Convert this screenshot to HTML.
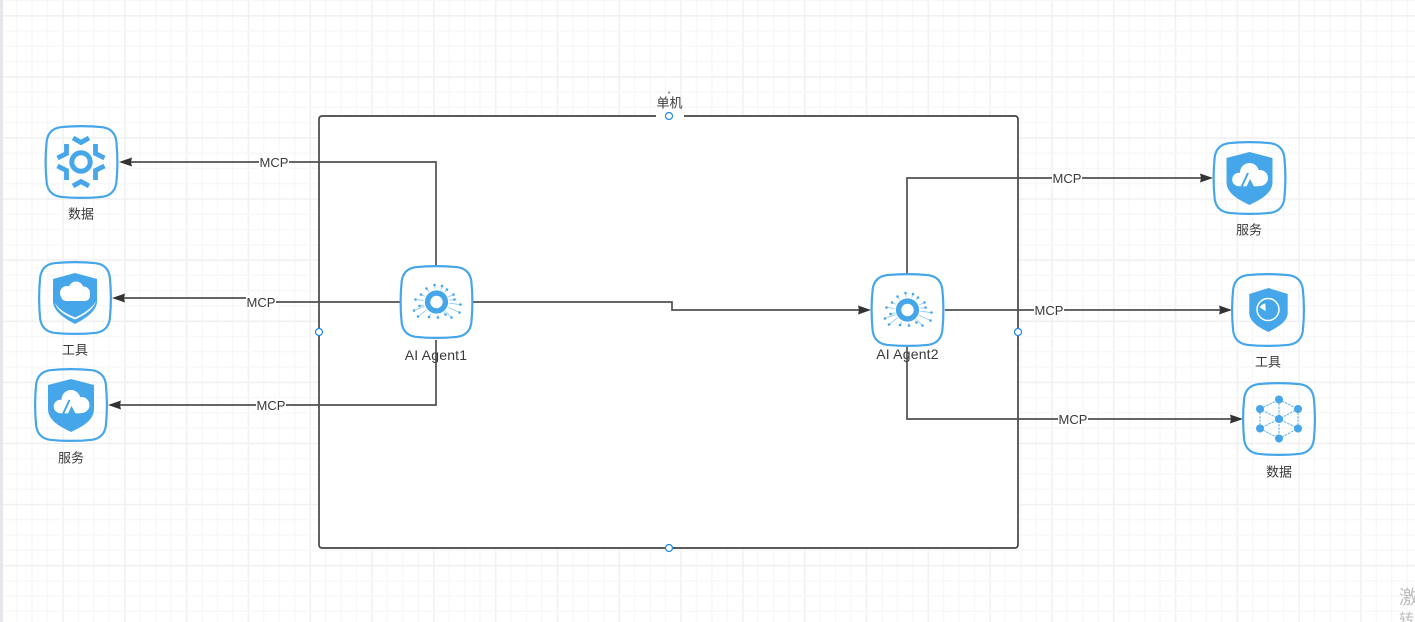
<!DOCTYPE html>
<html><head><meta charset="utf-8">
<style>
html,body{margin:0;padding:0;background:#fff;overflow:hidden}
svg{display:block}
text{font-family:"Liberation Sans","Noto Sans CJK SC",sans-serif;font-size:13px;fill:#3a3a3a;text-anchor:middle;dominant-baseline:central}
</style></head><body>
<svg width="1415" height="622" viewBox="0 0 1415 622" xmlns="http://www.w3.org/2000/svg">
<defs>
<pattern id="gv" patternUnits="userSpaceOnUse" x="0.5" y="0" width="61.8" height="622">
<rect x="0" width="1.6" height="622" fill="#f1f1f1"/>
<rect x="15.45" width="1.3" height="622" fill="#f7f7f7"/>
<rect x="30.9" width="1.3" height="622" fill="#f7f7f7"/>
<rect x="46.35" width="1.3" height="622" fill="#f7f7f7"/>
</pattern>
<pattern id="gh" patternUnits="userSpaceOnUse" x="0" y="15" width="1415" height="61.1">
<rect y="0" width="1415" height="1.6" fill="#f1f1f1"/>
<rect y="15.27" width="1415" height="1.3" fill="#f7f7f7"/>
<rect y="30.55" width="1415" height="1.3" fill="#f7f7f7"/>
<rect y="45.82" width="1415" height="1.3" fill="#f7f7f7"/>
</pattern>
<path id="frame" fill="none" stroke="#46a6ea" stroke-width="2.2" d="M-21-34.800Q0-37 21-34.800Q33-33 34.800-21Q37 0 34.800 21Q33 33 21 34.800Q0 37-21 34.800Q-33 33-34.800 21Q-37 0-34.800-21Q-33-33-21-34.800Z"/>
<g id="agent">
<use href="#frame"/>
<circle r="8.9" fill="none" stroke="#46a6ea" stroke-width="5.400"/>
<g stroke="#6db8ee" stroke-width=".65">
<line x1="-2" y1="-17" x2="-1.5" y2="-12.9"/><line x1="5.5" y1="-16" x2="4.2" y2="-12.3"/><line x1="10.5" y1="-12.5" x2="8.4" y2="-10"/><line x1="17" y1="-7.5" x2="11.9" y2="-5.2"/><line x1="18" y1="-2.5" x2="12.9" y2="-1.8"/><line x1="24" y1="2.5" x2="13" y2="1.3"/><line x1="23" y1="10.5" x2="11.8" y2="5.4"/><line x1="15" y1="15.5" x2="9" y2="9.3"/><line x1="9" y1="12.5" x2="7.6" y2="10.5"/><line x1="1.5" y1="15.5" x2="1.2" y2="12.9"/><line x1="-7.5" y1="15" x2="-5.8" y2="11.6"/><line x1="-18.5" y1="14.5" x2="-10.2" y2="8"/><line x1="-22.5" y1="8.5" x2="-12.2" y2="4.6"/><line x1="-17" y1="4" x2="-12.6" y2="3"/><line x1="-21" y1="-2.5" x2="-13" y2="-1.6"/><line x1="-15.5" y1="-7.5" x2="-11.8" y2="-5.7"/><line x1="-10" y1="-13.5" x2="-7.7" y2="-10.4"/>
</g>
<g fill="#46a6ea">
<circle cx="-2" cy="-17" r="1.3"/><circle cx="5.5" cy="-16" r="1.3"/><circle cx="10.5" cy="-12.5" r="1.3"/><circle cx="17" cy="-7.5" r="1.3"/><circle cx="18" cy="-2.5" r="1.3"/><circle cx="24" cy="2.5" r="1.3"/><circle cx="23" cy="10.5" r="1.3"/><circle cx="15" cy="15.5" r="1.3"/><circle cx="9" cy="12.5" r="1.3"/><circle cx="1.5" cy="15.5" r="1.3"/><circle cx="-7.5" cy="15" r="1.3"/><circle cx="-18.5" cy="14.5" r="1.3"/><circle cx="-22.5" cy="8.5" r="1.3"/><circle cx="-17" cy="4" r="1.3"/><circle cx="-21" cy="-2.5" r="1.3"/><circle cx="-15.5" cy="-7.5" r="1.3"/><circle cx="-10" cy="-13.5" r="1.3"/>
</g>
</g>
<g id="svc">
<use href="#frame"/>
<path fill="#46a6ea" d="M0-26L23-20V4C23 16 10 22 0 27C-10 22-23 16-23 4V-20Z"/>
<g fill="#fff"><circle cx="-10.500" cy="1.500" r="6.800"/><circle cx="0" cy="-5.500" r="9.500"/><circle cx="10.500" cy="0" r="8"/><rect x="-10" y="0" width="20" height="8.300"/></g>
<path fill="none" stroke="#46a6ea" stroke-width="2" d="M-8 9L-1.500-5"/>
<path fill="#46a6ea" d="M-3 8.500L0.500 1 4.500 8.500Z"/>
</g>
</defs>
<rect width="1415" height="622" fill="#fff"/>
<rect width="1415" height="622" fill="url(#gv)"/>
<rect width="1415" height="622" fill="url(#gh)"/>
<rect x="0" y="0" width="3" height="622" fill="#e5e7ea"/>

<!-- container -->
<rect x="319" y="116" width="699" height="432" rx="3" fill="#fff" stroke="#444" stroke-width="1.7"/>
<rect x="656" y="113" width="28" height="6" fill="#fff"/>
<text x="669.5" y="103">单机</text>
<circle cx="669" cy="92.5" r="1" fill="#777"/>
<g fill="#fff" stroke="#1e88e5" stroke-width="1.2">
<circle cx="669" cy="116" r="3.5"/><circle cx="669" cy="548" r="3.5"/><circle cx="319" cy="332" r="3.5"/><circle cx="1018" cy="332" r="3.5"/>
</g>

<!-- connectors -->
<g fill="none" stroke="#505050" stroke-width="1.7">
<path d="M436 266V162H125"/>
<path d="M400 302H275"/><path d="M246 298H118"/>
<path d="M436 340V405H114"/>
<path d="M473 302H672V310H865"/>
<path d="M907 274V178H1207"/>
<path d="M945 310H1226"/>
<path d="M907 346V419H1237"/>
</g>
<g fill="#333">
<path d="M119 162l13-4.500-1 4.500 1 4.500Z"/>
<path d="M112 298l13-4.500-1 4.500 1 4.500Z"/>
<path d="M108 405l13-4.500-1 4.500 1 4.500Z"/>
<path d="M871 310l-13-4.500 1 4.500-1 4.500Z"/>
<path d="M1213 178l-13-4.500 1 4.500-1 4.500Z"/>
<path d="M1232 310l-13-4.500 1 4.500-1 4.500Z"/>
<path d="M1243 419l-13-4.500 1 4.500-1 4.500Z"/>
</g>
<g fill="#fff">
<rect x="259" y="155" width="30" height="15"/>
<rect x="246" y="295" width="30" height="15"/>
<rect x="256" y="398" width="30" height="15"/>
<rect x="1052" y="171" width="30" height="15"/>
<rect x="1034" y="303" width="30" height="15"/>
<rect x="1058" y="412" width="30" height="15"/>
</g>
<text x="274" y="162.500">MCP</text>
<text x="261" y="302.500">MCP</text>
<text x="271" y="405.500">MCP</text>
<text x="1067" y="178.500">MCP</text>
<text x="1049" y="310.500">MCP</text>
<text x="1073" y="419.500">MCP</text>

<!-- agents -->
<use href="#agent" x="436.500" y="302"/>
<use href="#agent" x="907.500" y="310"/>
<text x="436" y="355" style="font-size:14px;letter-spacing:.2px">AI Agent1</text>
<text x="907.500" y="354" style="font-size:14px;letter-spacing:.2px">AI Agent2</text>

<!-- data left -->
<g transform="translate(81.500 162)">
<use href="#frame"/>
<circle cx="-.5" r="9.200" fill="none" stroke="#46a6ea" stroke-width="5"/>
<g fill="none" stroke="#46a6ea" stroke-width="4.800" transform="translate(-.5 0)">
<path d="M-8-24L0-19.500 8-24"/><path d="M-8 24L0 19.500 8 24"/>
<path d="M-14.500-18V-8.500L-23.500-4"/><path d="M14.500-18V-8.500L23.500-4"/>
<path d="M-14.500 18V8.500L-23.500 4"/><path d="M14.500 18V8.500L23.500 4"/>
</g>
</g>
<text x="81" y="214">数据</text>

<!-- tool left -->
<g transform="translate(75 298)">
<use href="#frame"/>
<path fill="#46a6ea" d="M0-25L22-19V3C22 14 9 21 0 26C-9 21-22 14-22 3V-19Z"/>
<g fill="#fff"><circle cx="-8" cy="-5" r="7"/><circle cx="1" cy="-9" r="7.500"/><circle cx="8.500" cy="-5" r="6.500"/><rect x="-14" y="-7" width="29" height="10" rx="5"/></g>
<path fill="#fff" d="M-20 5C-16 12-8 16 0 19.500C8 16 16 11 21 3.500C18 12 8 18 0 21.500C-8 18-17 14-20 5Z"/>
</g>
<text x="75" y="350">工具</text>

<!-- service left -->
<use href="#svc" x="71" y="405"/>
<text x="71" y="458">服务</text>

<!-- service right -->
<use href="#svc" x="1249.500" y="178"/>
<text x="1249" y="230">服务</text>

<!-- tool right -->
<g transform="translate(1268 310)">
<use href="#frame"/>
<path fill="#46a6ea" d="M0.500-22L19.700-16V3C19.700 12 8 18 0.500 22C-8 18-18.700 12-18.700 3V-16Z"/>
<circle cy="-.5" r="11" fill="none" stroke="#fff" stroke-width="1.500"/>
<path fill="#fff" d="M-2.300 1.300L-2.700-6.500A8 8 0 0 0-8.300-2.700Z"/>
</g>
<text x="1268" y="362">工具</text>

<!-- data right -->
<g transform="translate(1279 419)">
<use href="#frame"/>
<g stroke="#6db8ee" stroke-width="1.100" stroke-dasharray="2.500 1" fill="none">
<path d="M-19-10L0-19.500 19-10 0 0Z"/><path d="M-19 9.500L0 19.500 19 9.500 0 0Z"/>
<path d="M-19-10V9.500M19-10V9.500M0-19.500V19.500"/>
</g>
<g fill="#46a6ea">
<circle cy="-19.500" r="4"/><circle cx="-19" cy="-10" r="4"/><circle cx="19" cy="-10" r="4"/><circle r="4"/><circle cx="-19" cy="9.500" r="4"/><circle cx="19" cy="9.500" r="4"/><circle cy="19.500" r="4"/>
</g>
</g>
<text x="1279" y="472">数据</text>

<!-- watermark -->
<text x="1399" y="598" style="font-size:19px;fill:#bdbdbd;text-anchor:start">激活 Windows</text>
<text x="1399" y="620" style="font-size:15px;fill:#bdbdbd;text-anchor:start">转到设置以激活</text>
</svg>
</body></html>
